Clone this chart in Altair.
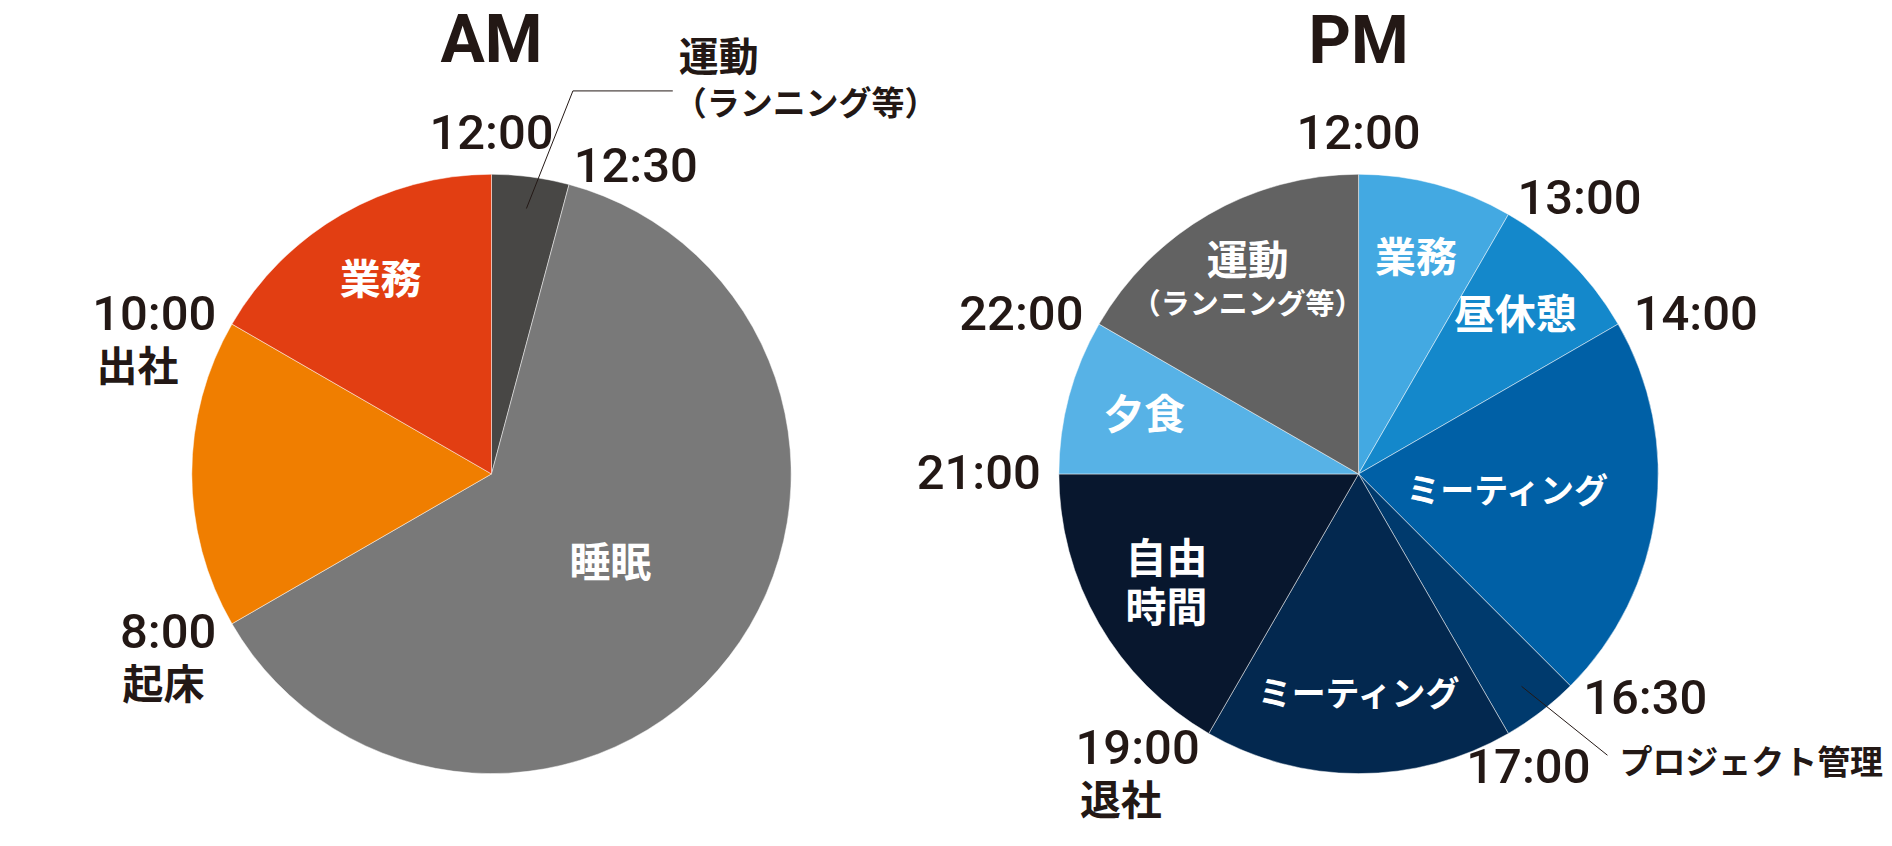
import altair as alt
import pandas as pd

# ---------------- data ----------------
AM_LABELS = ["運動", "睡眠", "", "業務"]
AM_SUBS = ["（ランニング等）", "", "", ""]
AM_HOURS = [0.5, 7.5, 2.0, 2.0]
AM_COLORS = ["#484745", "#797979", "#F07E00", "#E23E12"]
AM_TIMES = ["12:00", "12:30", "8:00", "10:00"]
AM_TIME_NOTES = ["", "", "起床", "出社"]

PM_LABELS = ["業務", "昼休憩", "ミーティング", "プロジェクト管理", "ミーティング", "自由\n時間", "夕食", "運動"]
PM_SUBS = ["", "", "", "", "", "", "", "（ランニング等）"]
PM_HOURS = [1.0, 1.0, 2.5, 0.5, 2.0, 2.0, 1.0, 2.0]
PM_COLORS = ["#43A9E2", "#1488CB", "#0060A6", "#003A6D", "#03284F", "#08172E", "#57B2E6", "#626262"]
PM_TIMES = ["12:00", "13:00", "14:00", "16:30", "17:00", "19:00", "21:00", "22:00"]
PM_TIME_NOTES = ["", "", "", "", "", "退社", "", ""]

INK = "#231815"
JP = "Noto Sans CJK JP"
NUM = "Roboto"


def slice_table(prefix, labels, subs, hours):
    rows, start = [], 0.0
    for i, (lab, sub, h) in enumerate(zip(labels, subs, hours)):
        size = "small" if h < 1 else ("large" if h > 2 else "mid")
        rows.append({"id": f"{prefix}{i}", "order": i, "label": lab, "sub": sub,
                     "hours": h, "mid": start + h / 2, "size": size})
        start += h
    return pd.DataFrame(rows)


def time_table(times, notes):
    rows = []
    for t, n in zip(times, notes):
        hh, mm = t.split(":")
        rows.append({"label": t, "note": n, "pos": int(hh) % 12 + int(mm) / 60})
    return pd.DataFrame(rows)


def panel(title, slices, times, colors, W, H, co, title_offset):
    th = alt.Scale(domain=[0, 12])
    bs = alt.Chart(slices)
    bt = alt.Chart(times)

    arcs = bs.mark_arc(outerRadius=300, stroke="#FFFFFF", strokeWidth=0.8, strokeOpacity=0.6).encode(
        theta=alt.Theta("hours:Q", stack=True, scale=th),
        order=alt.Order("order:Q"),
        color=alt.Color("id:N", scale=alt.Scale(domain=list(slices["id"]), range=colors), legend=None),
    )

    white = dict(font=JP, fontWeight="bold", color="#FFFFFF", align="center", baseline="middle",
                 lineBreak="\n", lineHeight=49)
    mid_theta = alt.Theta("mid:Q", scale=th, stack=False)
    lab_size = alt.condition("length(datum.label) > 5", alt.value(34), alt.value(41))
    one_line = "indexof(datum.label, '\\n') < 0"
    two_line = "indexof(datum.label, '\\n') >= 0"

    inner_mid = bs.transform_filter(
        f"datum.size == 'mid' && datum.label != '' && datum.sub == '' && {one_line}").mark_text(
        radius=222, **white).encode(theta=mid_theta, text="label:N", size=lab_size)
    inner_mid2 = bs.transform_filter(
        f"datum.size == 'mid' && datum.sub == '' && {two_line}").mark_text(
        radius=222, dy=-24, fontSize=41, **white).encode(theta=mid_theta, text="label:N")
    inner_two = bs.transform_filter("datum.size != 'small' && datum.sub != ''").mark_text(
        radius=222, dy=-19, fontSize=41, **white).encode(theta=mid_theta, text="label:N")
    inner_two_sub = bs.transform_filter("datum.size != 'small' && datum.sub != ''").mark_text(
        radius=222, dy=23, fontSize=29, **white).encode(theta=mid_theta, text="sub:N")
    inner_large = bs.transform_filter("datum.size == 'large' && datum.sub == ''").mark_text(
        radius=150, **white).encode(theta=mid_theta, text="label:N", size=lab_size)

    num = dict(font=NUM, fontSize=49, fontWeight=500, color=INK, baseline="middle")
    t_theta = alt.Theta("pos:Q", scale=th, stack=False)
    t_right = bt.transform_filter("datum.pos > 0 && datum.pos < 4.9").mark_text(
        radius=318, align="left", **num).encode(theta=t_theta, text="label:N")
    t_left = bt.transform_filter("datum.pos > 6").mark_text(
        radius=318, align="right", **num).encode(theta=t_theta, text="label:N")
    t_center = bt.transform_filter("datum.pos == 0 || (datum.pos >= 4.9 && datum.pos <= 6)").mark_text(
        radius=340, align="center", **num).encode(theta=t_theta, text="label:N")
    note_style = dict(radius=318, align="right", dy=54, font=JP, fontWeight="bold", fontSize=41,
                      color=INK, baseline="middle")
    t_note5 = bt.transform_filter("datum.note != '' && length(datum.label) > 4").mark_text(
        dx=-38, **note_style).encode(theta=t_theta, text="note:N")
    t_note4 = bt.transform_filter("datum.note != '' && length(datum.label) <= 4").mark_text(
        dx=-12, **note_style).encode(theta=t_theta, text="note:N")

    cs = bs.transform_filter("datum.size == 'small'").transform_calculate(
        a0="datum.mid * PI / 6",
        a1=f"datum.mid * PI / 6 + {co['turn']} * PI / 180",
    ).transform_calculate(
        x0=f"{W / 2} + 268 * sin(datum.a0)",
        y0=f"{H / 2} - 268 * cos(datum.a0)",
        x1=f"{W / 2} + {co['reach']} * sin(datum.a1)",
        y1=f"{H / 2} - {co['reach']} * cos(datum.a1)",
    ).transform_calculate(x2=f"datum.x1 + {co['tail']}")

    px = lambda f: alt.X(f, scale=None, axis=None)
    py = lambda f: alt.Y(f, scale=None, axis=None)
    seg1 = cs.mark_rule(color=INK, strokeWidth=1).encode(x=px("x0:Q"), y=py("y0:Q"), x2="x1:Q", y2="y1:Q")
    seg2 = cs.mark_rule(color=INK, strokeWidth=1).encode(x=px("x1:Q"), x2="x2:Q", y=py("y1:Q"))
    c_main = cs.mark_text(align="left", baseline="middle", dx=co["gap"], dy=co["dy_main"], font=JP,
                          fontWeight="bold", fontSize=co["size_main"], color=INK).encode(
        x=px("x2:Q"), y=py("y1:Q"), text="label:N")
    c_sub = cs.transform_filter("datum.sub != ''").mark_text(
        align="left", baseline="middle", dx=co["gap"] - 5, dy=co["dy_sub"], font=JP,
        fontWeight="bold", fontSize=33, color=INK).encode(x=px("x2:Q"), y=py("y1:Q"), text="sub:N")

    layers = [arcs, inner_mid, inner_mid2, inner_two, inner_two_sub, inner_large,
              t_right, t_left, t_center, t_note5, t_note4, seg1]
    if co["tail"] > 0:
        layers.append(seg2)
    layers += [c_main, c_sub]
    return alt.layer(*layers, title=alt.TitleParams(
        title, fontSize=66, font=NUM, fontWeight="bold", color=INK, anchor="middle",
        offset=title_offset, frame="group")
    ).properties(width=W, height=H)


am = panel("AM", slice_table("am", AM_LABELS, AM_SUBS, AM_HOURS), time_table(AM_TIMES, AM_TIME_NOTES),
           AM_COLORS, 968, 704,
           dict(turn=4.5, reach=392, tail=100, gap=6, dy_main=-32, dy_sub=14, size_main=40), -37)
pm = panel("PM", slice_table("pm", PM_LABELS, PM_SUBS, PM_HOURS), time_table(PM_TIMES, PM_TIME_NOTES),
           PM_COLORS, 768, 704,
           dict(turn=-4, reach=376, tail=0, gap=12, dy_main=9, dy_sub=40, size_main=33), 33)

chart = alt.hconcat(am, pm, spacing=0, bounds="flush", padding=0).resolve_scale(
    color="independent").configure_view(stroke=None)

chart.save("out.html", embed_options={"renderer": "svg", "actions": False})
